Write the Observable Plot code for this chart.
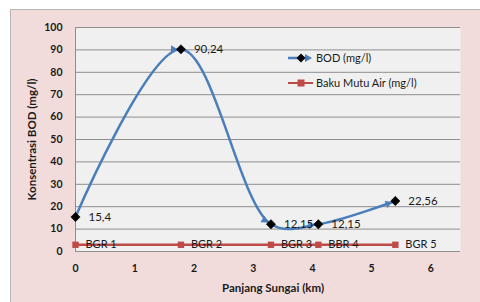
<!DOCTYPE html>
<html>
<head>
<meta charset="utf-8">
<script src="https://cdn.jsdelivr.net/npm/d3@7"></script>
<script src="https://cdn.jsdelivr.net/npm/@observablehq/plot@0.6"></script>
<style>
  html, body { margin: 0; padding: 0; background: #ffffff; }
  #wrap { position: relative; width: 480px; height: 302px; overflow: hidden; font-family: Lato, "Open Sans", sans-serif; }
  #bgframe { position: absolute; left: 10px; top: 9px; width: 480px; height: 300px; background: #f2dcdb; border-top: 1px solid #b5b5b5; border-left: 1px solid #b5b5b5; }
  #chart { position: absolute; left: 0; top: 0; }
  #chart svg g[aria-label="x-axis tick label"] text,
  #chart svg g[aria-label="y-axis tick label"] text { font-weight: bold; }
  #legend { position: absolute; left: 0; top: 0; width: 480px; height: 302px; pointer-events: none; }
</style>
</head>
<body>
<div id="wrap">
  <div id="bgframe"></div>
  <div id="chart"></div>
  <svg id="legend" width="480" height="302"></svg>
</div>
<script>
// ---- data ----
const xKm = [0, 1.78, 3.3, 4.1, 5.4];
const bod = [15.4, 90.24, 12.15, 12.15, 22.56];
const bodLabels = ["15,4", "90,24", "12,15", "12,15", "22,56"];
const baku = [3, 3, 3, 3, 3];
const stations = ["BGR 1", "BGR 2", "BGR 3", "BBR 4", "BGR 5"];
const yTicks = [0, 10, 20, 30, 40, 50, 60, 70, 80, 90, 100];
const xTicks = [0, 1, 2, 3, 4, 5, 6];
const seriesNames = ["BOD (mg/l)", "Baku Mutu Air (mg/l)"];
const yTitle = "Konsentrasi BOD (mg/l)";
const xTitle = "Panjang Sungai (km)";

const bodData = xKm.map((x, i) => ({x, y: bod[i], label: bodLabels[i]}));
const bakuData = xKm.map((x, i) => ({x, y: baku[i], label: stations[i]}));

const blue = "#4a7ebb";
const red = "#be4b48";
const grid = "#8e8e8e";
const ink = "#1a1a1a";

const plot = Plot.plot({
  width: 480,
  height: 302,
  marginLeft: 75,
  marginRight: 20,
  marginTop: 27,
  marginBottom: 51,
  style: {background: "transparent", fontFamily: "Lato, 'Open Sans', sans-serif", fontSize: "11px", color: ink},
  x: {domain: [0, 6.5]},
  y: {domain: [0, 100]},
  marks: [
    Plot.frame({fill: "#f0f0f0", stroke: "none"}),
    Plot.ruleY(yTicks, {stroke: grid, strokeWidth: 1}),
    Plot.ruleX([0], {stroke: grid, strokeWidth: 1}),
    Plot.axisY({ticks: yTicks, tickSize: 0, tickPadding: 13, label: null, fontSize: 10.5, tickFormat: d => String(d)}),
    Plot.axisX({ticks: xTicks, tickSize: 0, tickPadding: 13, label: null, fontSize: 10.5, tickFormat: d => String(d)}),
    Plot.text([yTitle], {frameAnchor: "left", dx: -43, rotate: -90, textAnchor: "middle", lineAnchor: "middle", fontWeight: "bold", fontSize: 11.5, fill: ink}),
    Plot.text([xTitle], {frameAnchor: "bottom", dx: 5, dy: 37, textAnchor: "middle", lineAnchor: "middle", fontWeight: "bold", fontSize: 11.5, fill: ink}),
    // Baku mutu line
    Plot.line(bakuData, {x: "x", y: "y", stroke: red, strokeWidth: 2.5}),
    Plot.dot(bakuData, {x: "x", y: "y", symbol: "square", r: 3.6, fill: red}),
    Plot.text(bakuData, {x: "x", y: "y", text: "label", dx: 10, textAnchor: "start", lineAnchor: "middle", fontSize: 11, fill: ink}),
    // BOD line
    Plot.line(bodData, {x: "x", y: "y", curve: "catmull-rom", stroke: blue, strokeWidth: 2.5, markerMid: "arrow", markerEnd: "arrow"}),
    Plot.dot(bodData, {x: "x", y: "y", symbol: "diamond2", r: 4.2, fill: "#000", stroke: "#000", strokeWidth: 0.5}),
    Plot.text(bodData, {x: "x", y: "y", text: "label", dx: 13, textAnchor: "start", lineAnchor: "middle", fontSize: 11.5, fill: ink})
  ]
});

// restyle arrow markers as small filled heads sitting just behind each point
d3.select(plot).selectAll("marker").each(function() {
  const m = d3.select(this);
  const c = m.attr("stroke") || blue;
  m.attr("markerUnits", "userSpaceOnUse")
   .attr("viewBox", "-12 -6 14 12")
   .attr("markerWidth", 14)
   .attr("markerHeight", 12)
   .attr("fill", c)
   .attr("stroke", "none");
  m.selectAll("*").remove();
  m.append("path").attr("d", "M-10,-3.8L-3.5,0L-10,3.8Z");
});

document.getElementById("chart").appendChild(plot);

// legend (inside plot area, top right)
const lg = d3.select("#legend");
const lx0 = 288, lx1 = 312, ltx = 316;
const rows = [58, 83];
// BOD entry
lg.append("line").attr("x1", lx0).attr("x2", lx1 - 4).attr("y1", rows[0]).attr("y2", rows[0]).attr("stroke", blue).attr("stroke-width", 2.5);
lg.append("path").attr("d", `M${lx1 - 7},${rows[0] - 4}L${lx1},${rows[0]}L${lx1 - 7},${rows[0] + 4}Z`).attr("fill", blue);
lg.append("path").attr("d", d3.symbol(d3.symbolDiamond2, 50)()).attr("transform", `translate(301,${rows[0]})`).attr("fill", "#000");
lg.append("text").attr("x", ltx).attr("y", rows[0]).attr("dy", "0.35em").attr("font-size", 11).attr("font-family", "Lato, sans-serif").attr("fill", ink).text(seriesNames[0]);
// Baku mutu entry
lg.append("line").attr("x1", lx0).attr("x2", lx1 + 1).attr("y1", rows[1]).attr("y2", rows[1]).attr("stroke", red).attr("stroke-width", 2);
lg.append("rect").attr("x", 297.5).attr("y", rows[1] - 3.5).attr("width", 7).attr("height", 7).attr("fill", red);
lg.append("text").attr("x", ltx).attr("y", rows[1]).attr("dy", "0.35em").attr("font-size", 11).attr("font-family", "Lato, sans-serif").attr("fill", ink).text(seriesNames[1]);
</script>
</body>
</html>
